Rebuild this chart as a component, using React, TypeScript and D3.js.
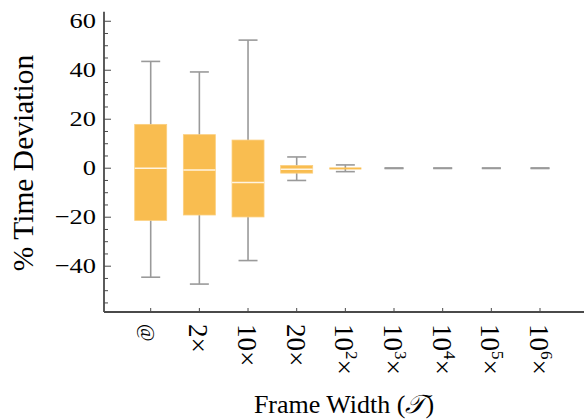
import React from "react";
import * as d3 from "d3";

const categories = ["@", "2×", "10×", "20×", "10^2×", "10^3×", "10^4×", "10^5×", "10^6×"];
const whiskerLow = [-44.5, -47.3, -37.7, -5.0, -1.4, -0.12, -0.1, -0.1, -0.12];
const quartile1 = [-21.3, -19.1, -19.9, -2.0, -0.5, -0.02, -0.02, -0.02, -0.02];
const medians = [0.0, -0.7, -5.8, -0.4, -0.1, 0.0, 0.0, 0.0, 0.0];
const quartile3 = [17.9, 13.7, 11.5, 1.1, 0.3, 0.02, 0.02, 0.02, 0.02];
const whiskerHigh = [43.6, 39.3, 52.3, 4.6, 1.35, 0.12, 0.1, 0.1, 0.12];
const yMajorTicks = [-40, -20, 0, 20, 40, 60];
const yMinorTicks = d3.range(-55, 61, 5).filter((v) => v % 20 !== 0);

const W = 584;
const H = 419;
const axisLeft = 104;
const axisBottom = 312;
const FONT = "Liberation Serif, Times New Roman, serif";

function parseLabel(s: string) {
  const m = s.match(/^(\d+)\^(\d+)(.*)$/);
  if (m) return { base: m[1], exp: m[2], rest: m[3] };
  return { base: s, exp: "", rest: "" };
}

export default function App() {
  const y = d3.scaleLinear().domain([-58.7, 63.9]).range([axisBottom, 11.7]);
  const x = d3.scaleLinear().domain([0, categories.length - 1]).range([150.7, 540]);
  const boxW = 32;
  const capW = 19;
  const axisColor = "#4a4a4a";

  return (
    <svg
      width={W}
      height={H}
      style={{ position: "absolute", left: 0, top: 0, background: "#fff" }}
    >
      {categories.map((c, i) => {
        const cx = x(i);
        const h = y(quartile1[i]) - y(quartile3[i]);
        return (
          <g key={"b" + i}>
            <line x1={cx} x2={cx} y1={y(whiskerHigh[i])} y2={y(whiskerLow[i])} stroke="#9a9a9a" strokeWidth={1.6} />
            <line x1={cx - capW / 2} x2={cx + capW / 2} y1={y(whiskerHigh[i])} y2={y(whiskerHigh[i])} stroke="#9a9a9a" strokeWidth={1.6} />
            <line x1={cx - capW / 2} x2={cx + capW / 2} y1={y(whiskerLow[i])} y2={y(whiskerLow[i])} stroke="#9a9a9a" strokeWidth={1.6} />
            {h > 1 && (
              <rect
                x={cx - boxW / 2}
                y={y(quartile3[i])}
                width={boxW}
                height={h}
                fill="#f9bd50"
                stroke="#fbcf7f"
                strokeWidth={h > 4 ? 0.8 : 0}
              />
            )}
            {h > 4 && (
              <line x1={cx - boxW / 2} x2={cx + boxW / 2} y1={y(medians[i])} y2={y(medians[i])} stroke="#fff4e0" strokeWidth={1.5} />
            )}
          </g>
        );
      })}

      <line x1={axisLeft} x2={axisLeft} y1={11.7} y2={axisBottom} stroke={axisColor} strokeWidth={1.8} />
      {yMinorTicks.map((v) => (
        <line key={"mi" + v} x1={axisLeft} x2={axisLeft + 4} y1={y(v)} y2={y(v)} stroke={axisColor} strokeWidth={1} />
      ))}
      {yMajorTicks.map((v) => (
        <g key={"ma" + v}>
          <line x1={axisLeft} x2={axisLeft + 7} y1={y(v)} y2={y(v)} stroke={axisColor} strokeWidth={1} />
          <text
            transform={`translate(96,${y(v) + 6.5}) scale(1.2,1)`}
            textAnchor="end"
            fontSize={22}
            fontFamily={FONT}
            fill="#000"
          >
            {v < 0 ? "\u2212" + Math.abs(v) : String(v)}
          </text>
        </g>
      ))}

      <line x1={axisLeft} x2={W} y1={axisBottom} y2={axisBottom} stroke={axisColor} strokeWidth={1.8} />
      {categories.map((c, i) => {
        const cx = x(i);
        const p = parseLabel(c);
        return (
          <g key={"xt" + i}>
            <line x1={cx} x2={cx} y1={axisBottom} y2={axisBottom - 4} stroke={axisColor} strokeWidth={1} />
            <text
              transform={`translate(${cx - 10},${324}) rotate(90)`}
              fontSize={c === "@" ? 19 : 27}
              fontFamily={FONT}
              fill="#000"
            >
              {p.exp ? (
                <>
                  <tspan>{p.base}</tspan>
                  <tspan fontSize={17} dy={-11}>{p.exp}</tspan>
                  <tspan dy={11}>{p.rest}</tspan>
                </>
              ) : (
                c
              )}
            </text>
          </g>
        );
      })}

      <text transform="translate(33,163) rotate(-90)" textAnchor="middle" fontSize={29.5} fontFamily={FONT} fill="#000">
        % Time Deviation
      </text>
      <text x={344} y={413} textAnchor="middle" fontSize={26} fontFamily={FONT} fill="#000">
        Frame Width (<tspan fontStyle="italic">𝒯</tspan>)
      </text>
    </svg>
  );
}
